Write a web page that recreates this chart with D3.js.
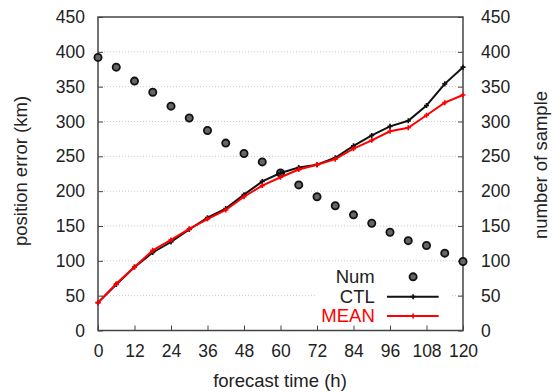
<!DOCTYPE html>
<html>
<head>
<meta charset="utf-8">
<script src="https://cdn.jsdelivr.net/npm/d3@7"></script>
<style>
  body { margin: 0; background: #fff; }
  svg text { font-family: "Liberation Sans", Arial, sans-serif; fill: #222; }
</style>
</head>
<body>
<svg id="chart" width="553" height="392"></svg>
<script>
const MARGIN = { top: 17, bottom: 61.5, left: 98, right: 90 };
const W = 553, H = 392;
const FONT_SIZE = 17.5;
const TITLE_SIZE = 18.5;

// forecast lead times (h)
const hours = d3.range(0, 121, 6);
const xTicks = [0, 12, 24, 36, 48, 60, 72, 84, 96, 108, 120];
const yTicks = [0, 50, 100, 150, 200, 250, 300, 350, 400, 450];

// position error (km)
const ctl  = [40, 66, 91, 112, 127, 145, 162, 175, 195, 214, 226, 234, 238, 248, 265, 280, 293, 301, 323, 354, 378];
const mean = [40, 67, 91, 115, 130, 146, 160, 173, 192, 208, 220, 231, 238, 246, 261, 273, 286, 291, 309, 327, 338];
// number of samples
const num  = [392, 378, 358, 342, 322, 305, 287, 269, 254, 242, 226, 209, 192, 179, 166, 154, 141, 129, 122, 111, 99];

const width = W - MARGIN.left - MARGIN.right;
const height = H - MARGIN.top - MARGIN.bottom;

const svg = d3.select('#chart');
const g = svg.append('g').attr('transform', `translate(${MARGIN.left},${MARGIN.top})`);

const x = d3.scaleLinear().domain([0, 120]).range([0, width]);
const y = d3.scaleLinear().domain([0, 450]).range([height, 0]);
const y2 = d3.scaleLinear().domain([0, 450]).range([height, 0]);

// grid
g.append('g').selectAll('line')
  .data(yTicks.filter(d => d > 0 && d < 450))
  .join('line')
  .attr('x1', 0).attr('x2', width)
  .attr('y1', d => y(d)).attr('y2', d => y(d))
  .attr('stroke', '#bbb').attr('stroke-width', 0.8)
  .attr('stroke-dasharray', '1,2');

// legend background hides grid
g.append('rect')
  .attr('x', x(71.7)).attr('y', y(92.5))
  .attr('width', x(115.7) - x(71.7)).attr('height', y(5) - y(92.5))
  .attr('fill', '#fff');

// axes (inward ticks)
const axisStyle = sel => {
  sel.select('.domain').remove();
  sel.selectAll('.tick line').attr('stroke', '#444').attr('stroke-width', 1);
  sel.selectAll('.tick text').style('font-size', FONT_SIZE + 'px').attr('fill', '#222');
};

g.append('g').attr('transform', `translate(0,${height})`)
  .call(d3.axisBottom(x).tickValues(xTicks).tickSizeInner(-5).tickSizeOuter(0).tickPadding(14))
  .call(axisStyle);

g.append('g')
  .call(d3.axisLeft(y).tickValues(yTicks).tickSizeInner(-5).tickSizeOuter(0).tickPadding(13))
  .call(axisStyle);

g.append('g').attr('transform', `translate(${width},0)`)
  .call(d3.axisRight(y2).tickValues(yTicks).tickSizeInner(-5).tickSizeOuter(0).tickPadding(18))
  .call(axisStyle);

// frame
g.append('rect')
  .attr('width', width).attr('height', height)
  .attr('fill', 'none').attr('stroke', '#444').attr('stroke-width', 1.5);

// num dots
const dot = (sel) => sel
  .attr('r', 3.6)
  .attr('fill', '#666')
  .attr('stroke', '#111')
  .attr('stroke-width', 1.8);

g.append('g').selectAll('circle')
  .data(hours)
  .join('circle')
  .attr('cx', d => x(d))
  .attr('cy', (d, i) => y2(num[i]))
  .call(dot);

// lines
const line = d3.line().x((d, i) => x(hours[i])).y(d => y(d));
const series = [
  { name: 'CTL', values: ctl, color: '#111' },
  { name: 'MEAN', values: mean, color: '#ff0000' }
];

series.forEach(s => {
  g.append('path')
    .datum(s.values)
    .attr('d', line)
    .attr('fill', 'none')
    .attr('stroke', s.color)
    .attr('stroke-width', 2);
  g.append('g').selectAll('path')
    .data(s.values)
    .join('path')
    .attr('d', d3.symbol(d3.symbolCross, 14))
    .attr('transform', (d, i) => `translate(${x(hours[i])},${y(d)})`)
    .attr('fill', s.color);
});

// legend
const lx = x(103.6), ltx = x(91);
const legend = g.append('g').style('font-size', '18.5px');
legend.append('text').attr('x', ltx).attr('y', y(77)).attr('text-anchor', 'end').attr('dy', '0.35em').text('Num');
legend.append('circle').attr('cx', lx).attr('cy', y(77)).call(dot);

[{ s: series[0], v: 48.6 }, { s: series[1], v: 20.8 }].forEach(({ s, v }) => {
  legend.append('text').attr('x', ltx).attr('y', y(v)).attr('dy', '0.35em')
    .attr('text-anchor', 'end').style('fill', s.name === 'MEAN' ? '#ff0000' : '#222').text(s.name);
  legend.append('line')
    .attr('x1', x(95)).attr('x2', x(112))
    .attr('y1', y(v)).attr('y2', y(v))
    .attr('stroke', s.color).attr('stroke-width', 2);
  legend.append('path')
    .attr('d', d3.symbol(d3.symbolCross, 14))
    .attr('transform', `translate(${lx},${y(v)})`)
    .attr('fill', s.color);
});

// axis titles
svg.append('text')
  .attr('x', 280).attr('y', 387)
  .attr('text-anchor', 'middle').style('font-size', TITLE_SIZE + 'px')
  .text('forecast time (h)');

svg.append('text')
  .attr('transform', `translate(27,171) rotate(-90)`)
  .attr('text-anchor', 'middle').style('font-size', TITLE_SIZE + 'px')
  .text('position error (km)');

svg.append('text')
  .attr('transform', `translate(547,165) rotate(-90)`)
  .attr('text-anchor', 'middle').style('font-size', TITLE_SIZE + 'px')
  .text('number of sample');
</script>
</body>
</html>
